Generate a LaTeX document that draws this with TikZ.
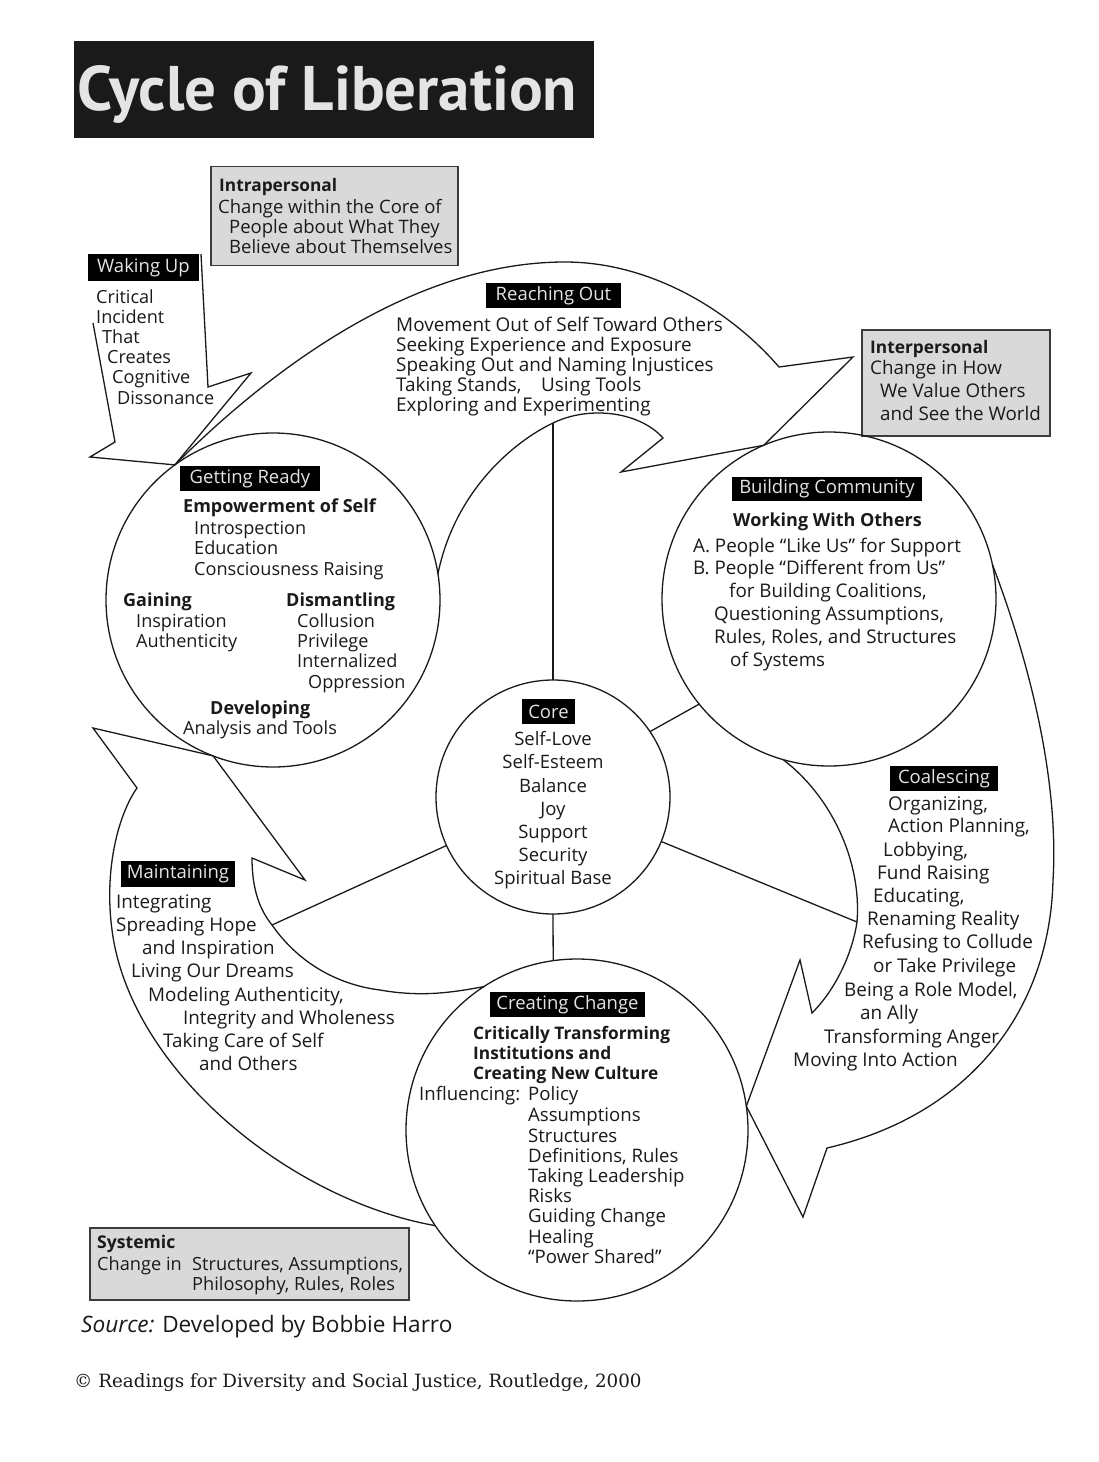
\documentclass[tikz,border=0pt]{standalone}
\usepackage{fontspec}
\setmainfont{Open Sans}
\newfontfamily\titlefont{PT Sans}
\newfontfamily\serifcr{DejaVu Serif}
\definecolor{ink}{HTML}{1A1A1A}
\definecolor{boxgray}{HTML}{D9D9D9}
\definecolor{labtext}{HTML}{E4E4E4}
\newcommand\bsz[1]{\fontsize{#1}{20}\selectfont\bfseries}
\tikzset{
  outline/.style={draw=ink, line width=1.3pt, line join=miter},
  ring/.style={circle, draw=ink, line width=1.3pt, inner sep=0pt, outer sep=0pt},
  ln/.style={anchor=base west, inner sep=0pt, font=\fontsize{#1}{20}\selectfont, text=ink},
  ln/.default=18.7,
  lnc/.style={ln=18.5, anchor=base},
  tag/.style={fill=black, text=labtext, inner sep=0pt, font=\fontsize{18.5}{20}\selectfont},
  infobox/.style={draw=ink!85, fill=boxgray, line width=1.5pt, inner sep=0pt},
}
\begin{document}
\begin{tikzpicture}[x=1pt,y=-1pt]
\useasboundingbox (0,0) rectangle (1098,1462);
\fill[white] (0,0) rectangle (1098,1462);

% title
\node[fill=ink, minimum width=520pt, minimum height=97pt, inner sep=0pt] (title) at (334,89.5) {};
\node[anchor=base west, inner sep=0pt, text=labtext, font=\titlefont\fontsize{63}{70}\selectfont\bfseries] (titletext) at (77,110) {Cycle of Liberation};

% info boxes
\node[infobox, minimum width=247pt, minimum height=99pt] (intra) at (334.5,216) {};
\node[infobox, minimum width=188pt, minimum height=106pt] (inter) at (956,383) {};
\node[infobox, minimum width=319pt, minimum height=72pt] (sys) at (249.5,1264) {};

% circles
\node[ring, minimum size=334pt] (gr) at (273,600) {};
\node[ring, minimum size=334pt] (bc) at (829,599) {};
\node[ring, minimum size=234pt] (core) at (553,797) {};
\node[ring, minimum size=342pt] (cc) at (577,1130) {};

% Waking Up arrow
\coordinate (wuR1) at (201,254);
\coordinate (wuR2) at (208,387);
\coordinate (wuR3) at (251,373);
\coordinate (wuL3) at (90,457);
\coordinate (wuL2) at (115,442);
\coordinate (wuL1) at (93,323);
\draw[outline] (wuR1) -- (wuR2) -- (wuR3) -- (gr.126.5) -- (wuL3) -- (wuL2) -- (wuL1);

% Reaching Out arrow
\coordinate (roA) at (779,367);
\coordinate (roT) at (853,357);
\coordinate (roB) at (621,472);
\coordinate (roD) at (663,438);
\coordinate (rotop) at (553,423);
\draw[outline] (gr.126.5) .. controls (280,360) and (420,262) .. (565,262)
  .. controls (650,262) and (730,310) .. (roA) -- (roT) -- (bc.113.3) -- (roB) -- (roD)
  .. controls (640,412) and (590,405) .. (rotop)
  .. controls (515,441) and (455,490) .. (gr.9);

% Coalescing arrow
\coordinate (coA) at (827,1148);
\coordinate (coT) at (803,1217);
\coordinate (coB) at (800,960);
\coordinate (coD) at (812,1013);
\coordinate (coin) at (857,922);
\draw[outline] (bc.12.6) .. controls (1040,690) and (1058,800) .. (1053,880)
  .. controls (1050,1010) and (970,1115) .. (coA) -- (coT) -- (cc.8.4) -- (coB) -- (coD)
  .. controls (835,990) and (852,955) .. (coin)
  .. controls (862,860) and (830,795) .. (bc.254.2);

% Maintaining arrow
\coordinate (maA) at (137,788);
\coordinate (maT) at (93,728);
\coordinate (maB) at (305,880);
\coordinate (maD) at (252,858);
\coordinate (main) at (272,925);
\draw[outline] (cc.214.5) .. controls (290,1200) and (130,1070) .. (112,930)
  .. controls (104,870) and (118,815) .. (maA) -- (maT) -- (gr.249.7) -- (maB) -- (maD)
  .. controls (252,890) and (260,910) .. (main)
  .. controls (300,965) and (340,985) .. (380,990)
  .. controls (420,997) and (450,993) .. (cc.123);

% spokes
\draw[outline] (core.north) -- (rotop);
\draw[outline] (core.34) -- (bc.219.3);
\draw[outline] (core) -- (coin);
\draw[outline] (core) -- (main);
\draw[outline] (core.south) -- (cc.98);

% labels
\node[tag, minimum width=111pt, minimum height=27pt] (lwu) at (143.5,267.5) {Waking Up};
\node[tag, minimum width=135pt, minimum height=25pt] (lro) at (553.5,295.5) {Reaching Out};
\node[tag, minimum width=140pt, minimum height=25pt] (lgr) at (250,478.5) {Getting Ready};
\node[tag, minimum width=190pt, minimum height=24pt] (lbc) at (827,489) {Building Community};
\node[tag, minimum width=53pt, minimum height=25pt] (lcore) at (548.5,711.5) {Core};
\node[tag, minimum width=108pt, minimum height=25pt] (lco) at (944,778.5) {Coalescing};
\node[tag, minimum width=114pt, minimum height=26pt] (lma) at (178,874) {Maintaining};
\node[tag, minimum width=155pt, minimum height=25pt] (lcc) at (567.5,1004.5) {Creating Change};

% texts
\foreach \xx/\yy/\tx [count=\ii] in {219/191/\bsz{17.3}Intrapersonal, 218/213/Change within the Core of, 229/233/People about What They, 229/253/Believe about Themselves}
  \node[ln=18.5] (ia\ii) at (\xx,\yy) {\tx};
\foreach \xx/\yy/\tx [count=\ii] in {870/353/\bsz{17.3}Interpersonal, 870/374/Change in How, 880/397/We Value Others, 880/420/and See the World}
  \node[ln=18.8] (ie\ii) at (\xx,\yy) {\tx};
\foreach \xx/\yy/\tx [count=\ii] in {96/303/Critical, 96/323/Incident, 102/343/That, 107/363/Creates, 112/383/Cognitive, 117/404/Dissonance}
  \node[ln=18.1] (wk\ii) at (\xx,\yy) {\tx};
\foreach \xx/\yy/\tx [count=\ii] in {396/331/Movement Out of Self Toward Others, 396/351/Seeking Experience and Exposure, 396/371/Speaking Out and Naming Injustices, 396/391/{Taking Stands,}, 541/391/Using Tools, 396/411/Exploring and Experimenting}
  \node[ln=18.9] (ro\ii) at (\xx,\yy) {\tx};
\foreach \xx/\yy/\tx [count=\ii] in {183/512/\bsz{18}Empowerment of Self, 194/534/Introspection, 194/554/Education, 194/575/Consciousness Raising, 123/606/\bsz{18}Gaining, 136/627/Inspiration, 136/647/Authenticity, 286/606/\bsz{18}Dismantling, 297/627/Collusion, 297/647/Privilege, 297/667/Internalized, 308/688/Oppression, 210/714/\bsz{18}Developing, 183/734/Analysis and Tools}
  \node[ln=18.1] (gy\ii) at (\xx,\yy) {\tx};
\foreach \xx/\yy/\tx [count=\ii] in {733/526/\bsz{18}Working With Others, 693/552/A. People “Like Us” for Support, 693/574/B. People “Different from Us”, 729/597/{for Building Coalitions,}, 714/620/{Questioning Assumptions,}, 714/643/{Rules, Roles, and Structures}, 730/666/of Systems}
  \node[ln=18.8] (bx\ii) at (\xx,\yy) {\tx};
\foreach \yy/\tx [count=\ii] in {745/Self-Love, 768/Self-Esteem, 792/Balance, 815/Joy, 838/Support, 861/Security, 884/Spiritual Base}
  \node[lnc] (cr\ii) at (553,\yy) {\tx};
\foreach \xx/\yy/\tx [count=\ii] in {888/810/{Organizing,}, 888/832/{Action Planning,}, 883/856/{Lobbying,}, 877/879/Fund Raising, 873/902/{Educating,}, 867/925/Renaming Reality, 862/948/Refusing to Collude, 873/972/or Take Privilege, 844/996/{Being a Role Model,}, 860/1019/an Ally, 824/1043/Transforming Anger, 793/1066/Moving Into Action}
  \node[ln=18.9] (cl\ii) at (\xx,\yy) {\tx};
\foreach \xx/\yy/\tx [count=\ii] in {116/908/Integrating, 116/931/Spreading Hope, 142/954/and Inspiration, 131/977/Living Our Dreams, 148/1001/{Modeling Authenticity,}, 183/1024/Integrity and Wholeness, 163/1047/Taking Care of Self, 199/1070/and Others}
  \node[ln=18.8] (mt\ii) at (\xx,\yy) {\tx};
\foreach \xx/\yy/\tx [count=\ii] in {473/1039/\bsz{17.3}Critically Transforming, 473/1059/\bsz{17.3}Institutions and, 473/1079/\bsz{17.3}Creating New Culture, 419/1100/Influencing:, 528/1100/Policy, 528/1121/Assumptions, 528/1142/Structures, 528/1162/{Definitions, Rules}, 528/1182/Taking Leadership, 528/1202/Risks, 528/1222/Guiding Change, 528/1243/Healing, 528/1263/“Power Shared”}
  \node[ln=18.6] (cg\ii) at (\xx,\yy) {\tx};
\foreach \xx/\yy/\tx [count=\ii] in {97/1248/\bsz{17.6}Systemic, 97/1270/Change in, 192/1270/{Structures, Assumptions,}, 192/1290/{Philosophy, Rules, Roles}}
  \node[ln=18.2] (sy\ii) at (\xx,\yy) {\tx};

\node[anchor=base west, inner sep=0pt, text=ink, font=\fontsize{22.6}{24}\selectfont] (source) at (81,1332) {\textit{Source:} Developed by Bobbie Harro};
\node[anchor=base west, inner sep=0pt, text=ink, font=\serifcr\fontsize{18.3}{20}\selectfont] (copy) at (74,1387) {© Readings for Diversity and Social Justice, Routledge, 2000};
\end{tikzpicture}
\end{document}
